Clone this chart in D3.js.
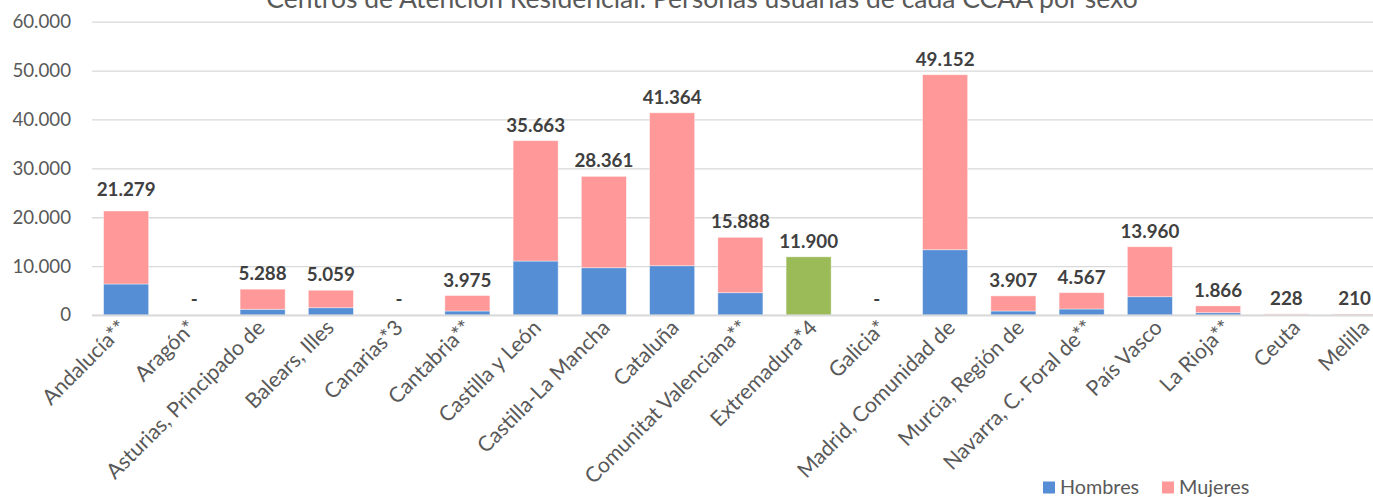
<!DOCTYPE html>
<html>
<head>
<meta charset="utf-8">
<script src="https://cdn.jsdelivr.net/npm/d3@7"></script>
<style>
  html, body { margin: 0; padding: 0; background: #fff; }
  svg { display: block; }
  text { font-family: Lato, "Open Sans", sans-serif; }
</style>
</head>
<body>
<svg id="chart" width="1373" height="497"></svg>
<script>
const title = "Centros de Atención Residencial: Personas usuarias de cada CCAA por sexo";
const categories = ["Andalucía**", "Aragón*", "Asturias, Principado de", "Balears, Illes", "Canarias*3",
  "Cantabria**", "Castilla y León", "Castilla-La Mancha", "Cataluña", "Comunitat Valenciana**",
  "Extremadura*4", "Galicia*", "Madrid, Comunidad de", "Murcia, Región de", "Navarra, C. Foral de**",
  "País Vasco", "La Rioja**", "Ceuta", "Melilla"];
const hombres = [6340, 0, 1170, 1490, 0, 820, 11040, 9670, 10080, 4560, 0, 0, 13350, 820, 1230, 3740, 470, 100, 95];
const mujeres = [14939, 0, 4118, 3569, 0, 3155, 24623, 18691, 31284, 11328, 0, 0, 35802, 3087, 3337, 10220, 1396, 128, 115];
const sinDesglose = [0, 0, 0, 0, 0, 0, 0, 0, 0, 0, 11900, 0, 0, 0, 0, 0, 0, 0, 0];
const totals = [21279, 0, 5288, 5059, 0, 3975, 35663, 28361, 41364, 15888, 11900, 0, 49152, 3907, 4567, 13960, 1866, 228, 210];
const yTicks = [0, 10000, 20000, 30000, 40000, 50000, 60000];
const seriesNames = ["Hombres", "Mujeres"];

const colors = { Hombres: "#558ED5", Mujeres: "#FF9999", sinDesglose: "#9BBB59" };
const svg = d3.select("#chart");
const W = 1373;
const left = 92, step = 68.25;
const x = d3.scaleBand().domain(categories)
  .range([left, left + step * categories.length])
  .paddingInner(0.34).paddingOuter(0.17);
const y = d3.scaleLinear().domain([0, 60000]).range([315, 21.7]);
// category-label anchor scale (labels spread slightly wider than bars)
const xl = d3.scalePoint().domain(categories)
  .range([x(categories[0]) + x.bandwidth() / 2, x(categories[categories.length - 1]) + x.bandwidth() / 2 + 14]);

const loc = d3.formatLocale({ decimal: ",", thousands: ".", grouping: [3], currency: ["", "€"] });
const fmt = loc.format(",d");

// Title
svg.append("text")
  .attr("x", 702).attr("y", 8)
  .attr("text-anchor", "middle")
  .attr("font-size", 26.5)
  .attr("fill", "#595959")
  .text(title);

// Y axis with gridlines
const yAxis = d3.axisLeft(y).tickValues(yTicks)
  .tickSize(-(W - left)).tickPadding(21)
  .tickFormat(d => fmt(d));
const gy = svg.append("g").attr("transform", `translate(${left},0)`).call(yAxis);
gy.select(".domain").remove();
gy.selectAll(".tick line").attr("stroke", "#D9D9D9").attr("stroke-width", 1.3);
gy.selectAll(".tick text").attr("font-size", 18.7).attr("fill", "#595959")
  .attr("font-family", "Lato, sans-serif");

// Stacked bars
const rows = categories.map((c, i) => ({ cat: c, Hombres: hombres[i], Mujeres: mujeres[i] }));
const stack = d3.stack().keys(seriesNames)(rows);
const gBars = svg.append("g");
stack.forEach(layer => {
  gBars.append("g").attr("fill", colors[layer.key])
    .selectAll("rect").data(layer).join("rect")
    .attr("x", d => x(d.data.cat))
    .attr("width", x.bandwidth())
    .attr("y", d => y(d[1]))
    .attr("height", d => y(d[0]) - y(d[1]))
    .attr("stroke", "#ffffff").attr("stroke-opacity", 0.5).attr("stroke-width", 0.8);
});
gBars.append("g").attr("fill", colors.sinDesglose)
  .selectAll("rect").data(sinDesglose.map((v, i) => ({ cat: categories[i], v })).filter(d => d.v > 0))
  .join("rect")
  .attr("x", d => x(d.cat)).attr("width", x.bandwidth())
  .attr("y", d => y(d.v)).attr("height", d => y(0) - y(d.v))
  .attr("stroke", "#ffffff").attr("stroke-opacity", 0.5).attr("stroke-width", 0.8);

// Zero line over bars
svg.append("line")
  .attr("x1", left).attr("x2", W)
  .attr("y1", y(0) + 0.3).attr("y2", y(0) + 0.3)
  .attr("stroke", "#D9D9D9").attr("stroke-opacity", 0.65).attr("stroke-width", 2.2);

// Total labels
svg.append("g").selectAll("text")
  .data(totals.map((v, i) => ({ cat: categories[i], v })))
  .join("text")
  .attr("x", d => x(d.cat) + x.bandwidth() / 2)
  .attr("y", d => y(d.v) - (d.v > 20000 && d.v < 25000 ? 15 : 9))
  .attr("text-anchor", "middle")
  .attr("font-size", 18.8).attr("font-weight", 700)
  .attr("fill", "#404040")
  .text(d => d.v === 0 ? "-" : fmt(d.v));

// X labels
svg.append("g").selectAll("text")
  .data(categories).join("text")
  .attr("transform", d => `translate(${xl(d) + 2},${329}) rotate(-45)`)
  .attr("text-anchor", "end")
  .attr("font-size", 21.3)
  .attr("fill", "#595959")
  .text(d => d);

// Legend
const legend = svg.append("g");
const legendItems = [{ k: "Hombres", x: 1043 }, { k: "Mujeres", x: 1162 }];
legendItems.forEach(it => {
  legend.append("rect").attr("x", it.x).attr("y", 481.5).attr("width", 12).attr("height", 12)
    .attr("fill", colors[it.k]);
  legend.append("text").attr("x", it.x + 17).attr("y", 494)
    .attr("font-size", 19.8).attr("fill", "#595959").text(it.k);
});
</script>
</body>
</html>
